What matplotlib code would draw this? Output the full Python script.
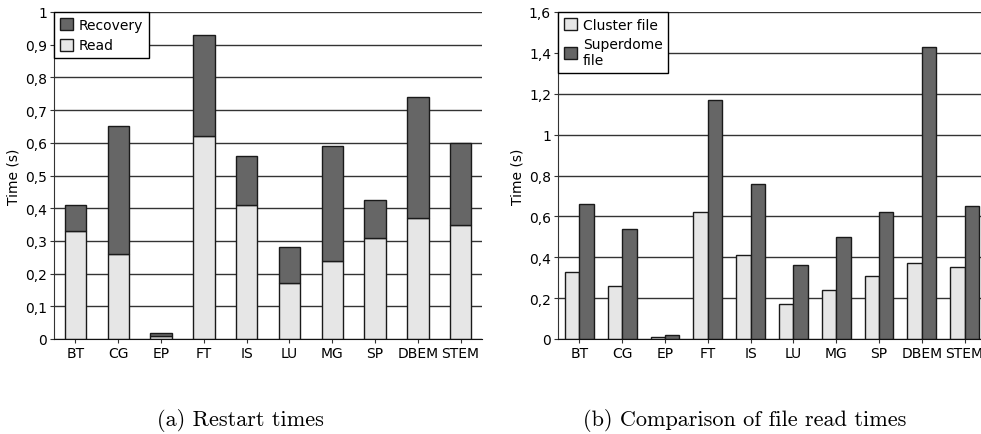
import numpy as np
import matplotlib.pyplot as plt
from matplotlib.ticker import FuncFormatter

categories = ['BT', 'CG', 'EP', 'FT', 'IS', 'LU', 'MG', 'SP', 'DBEM', 'STEM']
read_times = [0.33, 0.26, 0.01, 0.62, 0.41, 0.17, 0.24, 0.31, 0.37, 0.35]
restart_totals = [0.41, 0.65, 0.017, 0.93, 0.56, 0.28, 0.59, 0.425, 0.74, 0.60]
recovery_times = [t - r for t, r in zip(restart_totals, read_times)]
cluster_file = [0.33, 0.26, 0.012, 0.62, 0.41, 0.17, 0.24, 0.31, 0.37, 0.35]
superdome_file = [0.66, 0.54, 0.018, 1.17, 0.76, 0.36, 0.50, 0.62, 1.43, 0.65]

dark = '#666666'
light = '#e6e6e6'
edge = '#1a1a1a'

plt.rcParams['font.family'] = 'DejaVu Sans'
plt.rcParams['font.size'] = 10

fig = plt.figure(figsize=(9.81, 4.35), dpi=100)
ax1 = fig.add_axes([54 / 981, 95 / 435, 428 / 981, 327 / 435])
ax2 = fig.add_axes([558 / 981, 95 / 435, 428 / 981, 327 / 435])

comma = FuncFormatter(lambda v, p: ('%g' % round(v, 2)).replace('.', ','))
x = np.arange(len(categories))


def style(ax, top, step):
    ax.set_xlim(-0.5, len(categories) - 0.5)
    ax.set_ylim(0, top)
    ax.set_yticks(np.arange(0, top + step / 2, step))
    ax.yaxis.set_major_formatter(comma)
    ax.set_xticks(x)
    ax.set_xticklabels(categories)
    ax.set_axisbelow(True)
    ax.grid(axis='y', color='#333333', linewidth=1)
    for s in ['top', 'right']:
        ax.spines[s].set_visible(False)
    ax.spines['left'].set_color('#333333')
    ax.spines['bottom'].set_color('#111111')
    ax.tick_params(axis='both', length=3, width=0.8, color='#333333', pad=2,
                   labelsize=10)
    ax.set_ylabel('Time (s)', labelpad=3, fontsize=10)


# (a) stacked restart times
ax1.bar(x, read_times, 0.5, color=light, edgecolor=edge, linewidth=1, label='Read')
ax1.bar(x, recovery_times, 0.5, bottom=read_times, color=dark, edgecolor=edge,
        linewidth=1, label='Recovery')
style(ax1, 1.0, 0.1)
h, l = ax1.get_legend_handles_labels()
ax1.legend(h[::-1], l[::-1], loc='upper left', borderaxespad=0, fancybox=False,
           edgecolor='black', framealpha=1, handlelength=1.0, handleheight=1.0,
           handletextpad=0.4, fontsize=10)

# (b) grouped file read times
w = 0.335
ax2.bar(x - w / 2, cluster_file, w, color=light, edgecolor=edge, linewidth=1,
        label='Cluster file')
ax2.bar(x + w / 2, superdome_file, w, color=dark, edgecolor=edge, linewidth=1,
        label='Superdome\nfile')
style(ax2, 1.6, 0.2)
ax2.legend(loc='upper left', borderaxespad=0, fancybox=False, edgecolor='black',
           framealpha=1, handlelength=1.0, handleheight=1.0, handletextpad=0.4,
           fontsize=10, labelspacing=0.4)

fig.text(240 / 981, 1 - 421 / 435, '(a) Restart times', family='cmr10',
         fontsize=16, ha='center', va='center')
fig.text(745 / 981, 1 - 421 / 435, '(b) Comparison of file read times',
         family='cmr10', fontsize=16, ha='center', va='center')

fig.savefig('out.png', dpi=100)
